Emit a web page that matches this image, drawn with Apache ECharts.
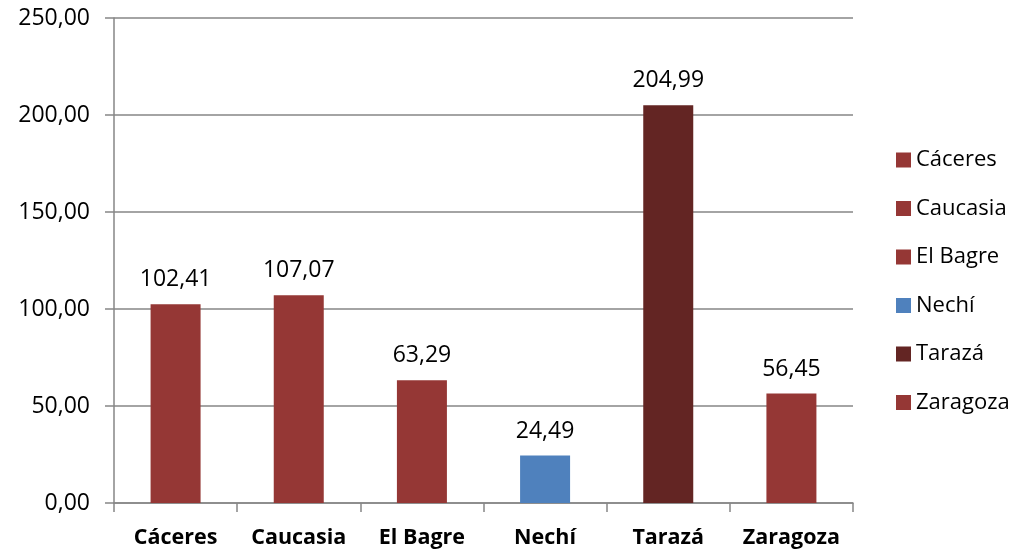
<!DOCTYPE html>
<html><head><meta charset="utf-8">
<script src="https://cdn.jsdelivr.net/npm/echarts@6/dist/echarts.min.js"></script>
<style>html,body{margin:0;padding:0;background:#fff}#c{width:1018px;height:556px}</style>
</head><body><div id="c"></div>
<script>
const categories = ["Cáceres","Caucasia","El Bagre","Nechí","Tarazá","Zaragoza"];
const values = [102.41,107.07,63.29,24.49,204.99,56.45];
const colors = ["#953735","#953735","#953735","#4F81BD","#632523","#953735"];
const yTicks = [0,50,100,150,200,250];

const FONT = "Open Sans";
const fmt = v => v.toFixed(2).replace('.', ',');
const series = categories.map((c,i) => ({
  name: c, type: 'bar', stack: 'all', barWidth: 50,
  itemStyle: {color: colors[i]},
  data: categories.map((_,j) => j===i ? values[i] : null),
  label: {show: true, position: 'top', distance: 13, color: '#000',
    fontFamily: FONT, fontSize: 23, formatter: p => fmt(p.value)}
}));
const chart = echarts.init(document.getElementById('c'));
chart.setOption({
  animation: false,
  grid: {left: 114, right: 165, top: 18, bottom: 53},
  legend: {orient: 'vertical', left: 891, top: 144, itemWidth: 15, itemHeight: 15,
    itemGap: 26.5, icon: 'rect',
    textStyle: {fontFamily: FONT, fontSize: 22, color: '#000', lineHeight: 22},
    data: categories},
  xAxis: {type: 'category', data: categories,
    axisLine: {lineStyle: {color: '#868686', width: 1.5}},
    axisTick: {show: true, interval: 0, length: 9, lineStyle: {color: '#868686', width: 1.5}},
    axisLabel: {interval: 0, hideOverlap: false, margin: 24, color: '#000', fontFamily: FONT, fontSize: 21.5, fontWeight: 'bold'}},
  yAxis: {type: 'value', min: yTicks[0], max: yTicks[yTicks.length-1], interval: 50,
    axisLine: {show: true, lineStyle: {color: '#868686', width: 1.5}},
    axisTick: {show: true, length: 9, lineStyle: {color: '#868686', width: 1.5}},
    splitLine: {lineStyle: {color: '#868686', width: 1.5}},
    axisLabel: {margin: 24, color: '#000', fontFamily: FONT, fontSize: 23, formatter: v => fmt(v)}},
  series: series
});
</script></body></html>
